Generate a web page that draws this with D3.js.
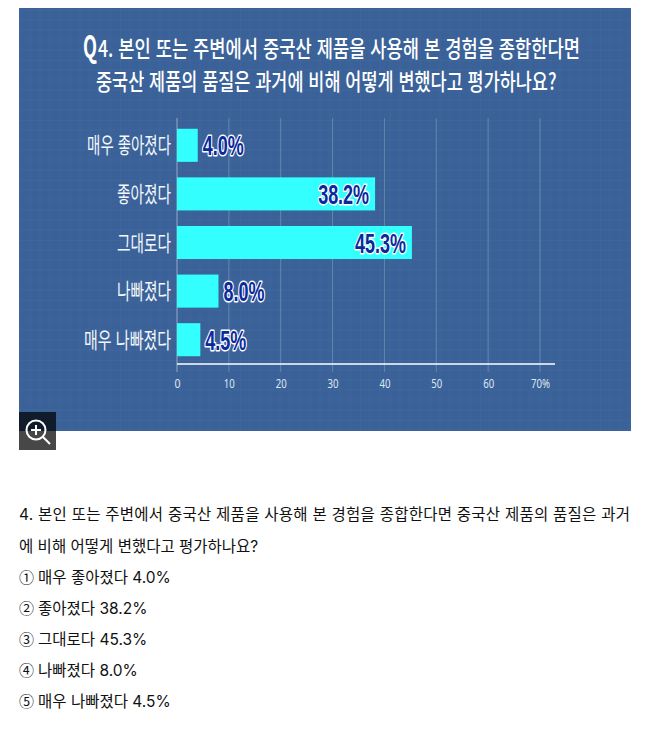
<!DOCTYPE html>
<html lang="ko">
<head>
<meta charset="utf-8">
<script src="https://cdn.jsdelivr.net/npm/d3@7"></script>
<style>
  html, body { margin: 0; padding: 0; background: #fff; overflow: hidden; }
  svg { display: block; }
</style>
</head>
<body>
<div id="chart"></div>
<script>
const categories = ["매우 좋아졌다", "좋아졌다", "그대로다", "나빠졌다", "매우 나빠졌다"];
const values = [4.0, 38.2, 45.3, 8.0, 4.5];
const ticks = [0, 10, 20, 30, 40, 50, 60, 70];
const titleLines = [
  "4. 본인 또는 주변에서 중국산 제품을 사용해 본 경험을 종합한다면",
  "중국산 제품의 품질은 과거에 비해 어떻게 변했다고 평가하나요?"
];
const bodyLines = [
  "4. 본인 또는 주변에서 중국산 제품을 사용해 본 경험을 종합한다면 중국산 제품의 품질은 과거",
  "에 비해 어떻게 변했다고 평가하나요?"
];
const circled = ["①", "②", "③", "④", "⑤"];

const krFont = "'Noto Sans CJK KR', sans-serif";
const svg = d3.select("#chart").append("svg").attr("width", 658).attr("height", 729)
  .style("font-family", krFont);

// squeeze a text to a given width (condensed look of the original image)
function squeeze(sel, px, py, width) {
  sel.each(function(d, i) {
    const w = typeof width === "function" ? width(d, i) : width;
    const k = w / this.getComputedTextLength();
    const tx = typeof px === "function" ? px(d, i) : px;
    const ty = typeof py === "function" ? py(d, i) : py;
    d3.select(this).attr("transform", `translate(${tx},${ty}) scale(${k},1)`);
  });
}

// blueprint background
const defs = svg.append("defs");
const pat = defs.append("pattern").attr("id", "grid")
  .attr("width", 60).attr("height", 60)
  .attr("patternUnits", "userSpaceOnUse");
pat.append("rect").attr("width", 60).attr("height", 60).attr("fill", "#3a6299");
d3.range(0, 60, 10).forEach(p => {
  const op = p === 0 ? 0.045 : 0.018;
  pat.append("line").attr("x1", p).attr("x2", p).attr("y1", 0).attr("y2", 60)
    .attr("stroke", "#fff").attr("stroke-opacity", op);
  pat.append("line").attr("y1", p).attr("y2", p).attr("x1", 0).attr("x2", 60)
    .attr("stroke", "#fff").attr("stroke-opacity", op);
});
svg.append("rect").attr("x", 19).attr("y", 8).attr("width", 612).attr("height", 423)
  .attr("fill", "url(#grid)");

// title
const title = svg.append("g").attr("fill", "#fff");
title.append("text").attr("font-size", 31).attr("font-weight", 700).text("Q")
  .call(squeeze, 83, 58, 14);
title.append("text").attr("font-size", 23).attr("font-weight", 500).text(titleLines[0])
  .call(squeeze, 98, 57, 482);
title.append("text").attr("font-size", 23).attr("font-weight", 500).text(titleLines[1])
  .call(squeeze, 96, 90, 461);

// scales
const x = d3.scaleLinear().domain([0, 70]).range([177, 540]);
const y = d3.scaleBand().domain(categories).range([121, 364]).paddingInner(0.32).paddingOuter(0.16);

// vertical grid lines
svg.append("g").selectAll("line").data(ticks).join("line")
  .attr("x1", d => x(d)).attr("x2", d => x(d))
  .attr("y1", 118).attr("y2", 372)
  .attr("stroke", "#fff").attr("stroke-opacity", d => d === 0 ? 0.45 : 0.22);

// bars
svg.append("g").selectAll("rect").data(values).join("rect")
  .attr("x", x(0))
  .attr("y", (d, i) => y(categories[i]))
  .attr("width", d => x(d) - x(0))
  .attr("height", y.bandwidth())
  .attr("fill", "#33ffff");

// x axis
const axis = svg.append("g").attr("transform", "translate(0,364)")
  .call(d3.axisBottom(x).tickValues(ticks).tickSize(0).tickPadding(15)
    .tickFormat(d => d === 70 ? "70%" : d));
axis.select(".domain").remove();
axis.append("line").attr("x1", x(0)).attr("x2", 555)
  .attr("stroke", "#fff").attr("stroke-width", 1.3);
axis.selectAll(".tick text")
  .attr("fill", "#dfe7f2")
  .attr("font-size", 13)
  .style("font-family", "'Noto Sans', sans-serif")
  .attr("textLength", d => d === 0 ? 6 : d === 70 ? 19 : 11)
  .attr("lengthAdjust", "spacingAndGlyphs");

// category labels
const labelWidths = [84, 54, 54, 54, 87];
svg.append("g").selectAll("text").data(categories).join("text")
  .attr("text-anchor", "end")
  .attr("fill", "#f4f7fb")
  .attr("font-size", 22)
  .attr("font-weight", 400)
  .text(d => d)
  .call(squeeze, 171, d => y(d) + y.bandwidth() / 2 + 8, (d, i) => labelWidths[i]);

// value labels, inside the bar when it is long enough
svg.append("g").selectAll("text").data(values).join("text")
  .attr("text-anchor", d => d > 30 ? "end" : "start")
  .style("font-family", "'Liberation Sans', sans-serif")
  .attr("font-size", 27)
  .attr("font-weight", 700)
  .attr("fill", "#0a2a9c")
  .attr("stroke", "#fff")
  .attr("stroke-width", 3)
  .attr("stroke-linejoin", "round")
  .attr("paint-order", "stroke")
  .text(d => d.toFixed(1) + "%")
  .call(squeeze, d => d > 30 ? x(d) - 6 : x(d) + 5,
    (d, i) => y(categories[i]) + y.bandwidth() / 2 + 10,
    d => d >= 10 ? 51 : 41);

// magnifier button
const btn = svg.append("g").attr("transform", "translate(19,412)");
btn.append("rect").attr("width", 37).attr("height", 38).attr("fill", "#000").attr("fill-opacity", 0.72);
btn.append("circle").attr("cx", 17).attr("cy", 18).attr("r", 9.5)
  .attr("fill", "none").attr("stroke", "#fff").attr("stroke-width", 2);
btn.append("path").attr("d", "M12 18H22M17 13V23M24 25L31 32")
  .attr("fill", "none").attr("stroke", "#fff").attr("stroke-width", 2);

// text under the image
const bodyFont = "Inter, 'Noto Sans CJK KR', sans-serif";
const body = svg.append("g").attr("fill", "#111")
  .attr("font-size", 15.5)
  .style("font-family", bodyFont);
body.selectAll("text.q").data(bodyLines).join("text").attr("class", "q")
  .attr("x", 19)
  .attr("y", (d, i) => 520 + i * 31.5)
  .attr("textLength", (d, i) => i === 0 ? 611 : null)
  .text(d => d);
body.selectAll("text.n").data(circled).join("text").attr("class", "n")
  .attr("x", 19)
  .attr("y", (d, i) => 583 + i * 31)
  .attr("font-size", 15)
  .style("font-family", krFont)
  .text(d => d);
body.selectAll("text.a").data(categories).join("text").attr("class", "a")
  .attr("x", 38)
  .attr("y", (d, i) => 583 + i * 31)
  .text((d, i) => `${d} ${values[i].toFixed(1)}%`);
</script>
</body>
</html>
